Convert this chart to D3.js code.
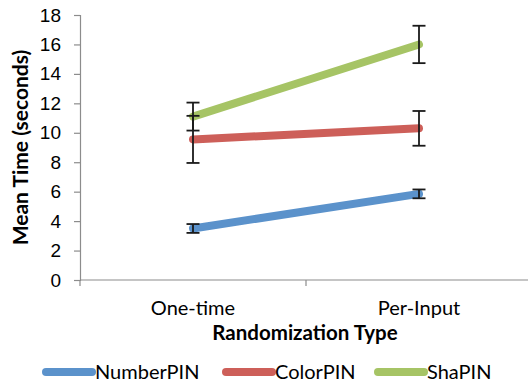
<!DOCTYPE html>
<html>
<head>
<meta charset="utf-8">
<script src="https://cdn.jsdelivr.net/npm/d3@7"></script>
<style>
  body { margin: 0; background: #fff; }
  svg { font-family: Lato, "Open Sans", sans-serif; }
</style>
</head>
<body>
<script>
// chart data
var categories = ["One-time", "Per-Input"];
var seriesNames = ["NumberPIN", "ColorPIN", "ShaPIN"];
var seriesColors = ["#5b92cb", "#cd5f59", "#a6c465"];
var numberPin = [3.5, 5.85];
var colorPin = [9.55, 10.3];
var shaPin = [11.1, 16.0];
var numberErr = [0.3, 0.3];
var colorErr = [1.6, 1.18];
var shaErr = [0.95, 1.27];
var yTicks = [0, 2, 4, 6, 8, 10, 12, 14, 16, 18];

var series = [
    {name: seriesNames[0], values: numberPin, err: numberErr, color: seriesColors[0]},
    {name: seriesNames[1], values: colorPin, err: colorErr, color: seriesColors[1]},
    {name: seriesNames[2], values: shaPin, err: shaErr, color: seriesColors[2]}
];

var margin = {top: 15, right: 0, bottom: 105, left: 80},
    width = 452,
    height = 265;

var svg = d3.select("body").append("svg")
    .attr("width", 528)
    .attr("height", 385);

var g = svg.append("g")
    .attr("transform", "translate(" + margin.left + "," + margin.top + ")");

var x = d3.scaleBand().domain(categories).range([0, width]);
var y = d3.scaleLinear().domain([0, 18]).range([height, 0]);

// y axis
var yAxis = g.append("g")
    .call(d3.axisLeft(y).tickValues(yTicks).tickSize(6).tickPadding(13));
yAxis.selectAll("path, line").attr("stroke", "#8c8c8c").attr("stroke-width", 1.2);
yAxis.selectAll("text").attr("font-size", 19).attr("fill", "#000");

// x axis with ticks at band edges
var xg = g.append("g").attr("transform", "translate(0," + height + ")");
xg.append("line").attr("x1", 0).attr("x2", width).attr("stroke", "#8c8c8c").attr("stroke-width", 1.2);
xg.selectAll(".edge")
    .data([0, 1, 2])
    .enter().append("line")
    .attr("x1", function(d) { return d * x.bandwidth(); })
    .attr("x2", function(d) { return d * x.bandwidth(); })
    .attr("y1", 0).attr("y2", 6)
    .attr("stroke", "#8c8c8c").attr("stroke-width", 1.2);
xg.selectAll(".cat")
    .data(categories)
    .enter().append("text")
    .attr("x", function(d) { return x(d) + x.bandwidth() / 2; })
    .attr("y", 35)
    .attr("text-anchor", "middle")
    .attr("font-size", 20)
    .text(function(d) { return d; });

// lines
var line = d3.line()
    .x(function(d, i) { return x(categories[i]) + x.bandwidth() / 2; })
    .y(function(d) { return y(d); });

g.selectAll(".series")
    .data(series)
    .enter().append("path")
    .attr("d", function(d) { return line(d.values); })
    .attr("fill", "none")
    .attr("stroke", function(d) { return d.color; })
    .attr("stroke-width", 8)
    .attr("stroke-linecap", "round");

// error bars
series.forEach(function(s) {
    s.values.forEach(function(v, i) {
        var cx = x(categories[i]) + x.bandwidth() / 2;
        var eb = g.append("g").attr("stroke", "#1a1a1a").attr("stroke-width", 1.8);
        eb.append("line").attr("x1", cx).attr("x2", cx).attr("y1", y(v + s.err[i])).attr("y2", y(v - s.err[i]));
        [v + s.err[i], v - s.err[i]].forEach(function(e) {
            eb.append("line").attr("x1", cx - 6.5).attr("x2", cx + 6.5).attr("y1", y(e)).attr("y2", y(e));
        });
    });
});

// axis titles
svg.append("text")
    .attr("transform", "translate(28," + (margin.top + height / 2) + ") rotate(-90)")
    .attr("text-anchor", "middle")
    .attr("font-size", 21)
    .attr("font-weight", "bold")
    .text("Mean Time (seconds)");

svg.append("text")
    .attr("x", 305)
    .attr("y", 340)
    .attr("text-anchor", "middle")
    .attr("font-size", 20.5)
    .attr("font-weight", "bold")
    .text("Randomization Type");

// legend
var legendX = [46, 226, 378];
var legend = svg.selectAll(".legend")
    .data(series)
    .enter().append("g")
    .attr("transform", function(d, i) { return "translate(" + legendX[i] + ",372)"; });
legend.append("line")
    .attr("x1", 0).attr("x2", 46)
    .attr("stroke", function(d) { return d.color; })
    .attr("stroke-width", 8)
    .attr("stroke-linecap", "round");
legend.append("text")
    .attr("x", 49)
    .attr("y", 7)
    .attr("font-size", 20)
    .text(function(d) { return d.name; });
</script>
</body>
</html>
